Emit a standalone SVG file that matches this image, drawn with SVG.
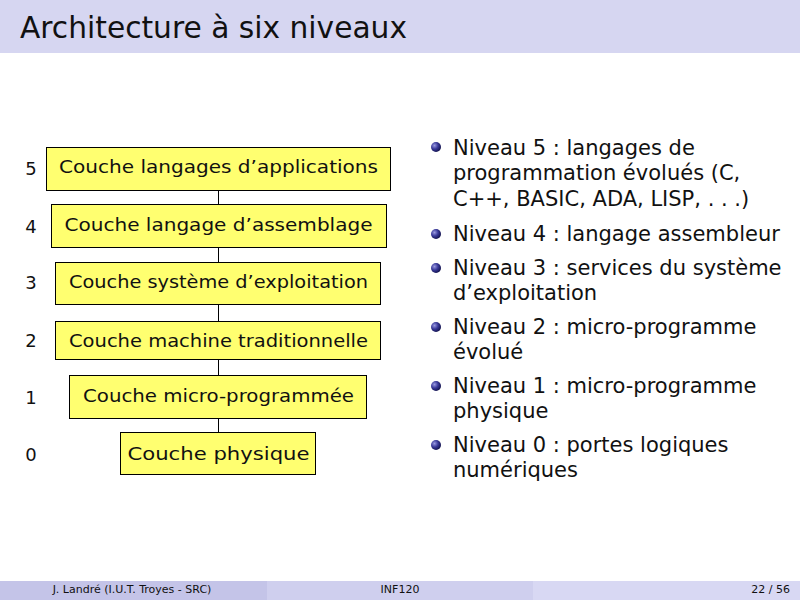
<svg xmlns="http://www.w3.org/2000/svg" width="800" height="600" viewBox="0 0 800 600">
  <defs>
    <radialGradient id="ball" cx="0.35" cy="0.35" r="0.7">
      <stop offset="0" stop-color="#9a9ae0"/>
      <stop offset="0.5" stop-color="#3a3a9a"/>
      <stop offset="1" stop-color="#10104a"/>
    </radialGradient>
  </defs>
  <style>
    text { font-family: "DejaVu Sans", "Liberation Sans", sans-serif; fill: #111; }
    .title { font-size: 30px; }
    .box { fill: #ffff70; stroke: #000; stroke-width: 1; }
    .lbl { font-size: 18px; text-anchor: middle; }
    .num { font-size: 18px; text-anchor: middle; }
    .item { font-size: 21px; }
    .foot { font-size: 11px; }
    .link { stroke: #000; stroke-width: 1; }
  </style>

  <!-- header bar -->
  <rect x="0" y="0" width="800" height="53" fill="#d6d6f1"/>
  <text class="title" x="20" y="38" textLength="387" lengthAdjust="spacingAndGlyphs">Architecture à six niveaux</text>

  <!-- connectors between layers -->
  <g id="connectors">
    <line class="link" x1="218.5" y1="191" x2="218.5" y2="204"/>
    <line class="link" x1="218.5" y1="248" x2="218.5" y2="262"/>
    <line class="link" x1="218.5" y1="305" x2="218.5" y2="321"/>
    <line class="link" x1="218.5" y1="360" x2="218.5" y2="375"/>
    <line class="link" x1="218.5" y1="419" x2="218.5" y2="432"/>
  </g>

  <!-- layers -->
  <g id="layer5">
    <text class="num" x="31" y="175">5</text>
    <rect class="box" x="46.5" y="147.5" width="344" height="43"/>
    <text class="lbl" x="218.5" y="173" textLength="319" lengthAdjust="spacingAndGlyphs">Couche langages d’applications</text>
  </g>
  <g id="layer4">
    <text class="num" x="31" y="233">4</text>
    <rect class="box" x="51.5" y="204.5" width="335" height="43"/>
    <text class="lbl" x="218.5" y="231" textLength="308" lengthAdjust="spacingAndGlyphs">Couche langage d’assemblage</text>
  </g>
  <g id="layer3">
    <text class="num" x="31" y="289">3</text>
    <rect class="box" x="55.5" y="262.5" width="325" height="42"/>
    <text class="lbl" x="218.5" y="288" textLength="299" lengthAdjust="spacingAndGlyphs">Couche système d’exploitation</text>
  </g>
  <g id="layer2">
    <text class="num" x="31" y="347">2</text>
    <rect class="box" x="55.5" y="321.5" width="325" height="38"/>
    <text class="lbl" x="218.5" y="347" textLength="299" lengthAdjust="spacingAndGlyphs">Couche machine traditionnelle</text>
  </g>
  <g id="layer1">
    <text class="num" x="31" y="404">1</text>
    <rect class="box" x="69.5" y="375.5" width="297" height="43"/>
    <text class="lbl" x="218.5" y="402" textLength="271" lengthAdjust="spacingAndGlyphs">Couche micro-programmée</text>
  </g>
  <g id="layer0">
    <text class="num" x="31" y="461">0</text>
    <rect class="box" x="120.5" y="432.5" width="195" height="42"/>
    <text class="lbl" x="218.5" y="460" textLength="182" lengthAdjust="spacingAndGlyphs">Couche physique</text>
  </g>

  <!-- bullet list -->
  <g id="items">
    <circle cx="436" cy="147" r="5" fill="url(#ball)"/>
    <text class="item" x="453" y="155">Niveau 5 : langages de</text>
    <text class="item" x="453" y="180">programmation évolués (C,</text>
    <text class="item" x="453" y="206">C++, BASIC, ADA, LISP, . . .)</text>

    <circle cx="436" cy="234" r="5" fill="url(#ball)"/>
    <text class="item" x="453" y="241">Niveau 4 : langage assembleur</text>

    <circle cx="436" cy="268" r="5" fill="url(#ball)"/>
    <text class="item" x="453" y="275">Niveau 3 : services du système</text>
    <text class="item" x="453" y="300">d’exploitation</text>

    <circle cx="436" cy="327" r="5" fill="url(#ball)"/>
    <text class="item" x="453" y="334">Niveau 2 : micro-programme</text>
    <text class="item" x="453" y="359">évolué</text>

    <circle cx="436" cy="386" r="5" fill="url(#ball)"/>
    <text class="item" x="453" y="393">Niveau 1 : micro-programme</text>
    <text class="item" x="453" y="418">physique</text>

    <circle cx="436" cy="445" r="5" fill="url(#ball)"/>
    <text class="item" x="453" y="452">Niveau 0 : portes logiques</text>
    <text class="item" x="453" y="477">numériques</text>
  </g>

  <!-- footer -->
  <rect x="0" y="581" width="267" height="19" fill="#c4c4e8"/>
  <rect x="267" y="581" width="266" height="19" fill="#cfcfee"/>
  <rect x="533" y="581" width="267" height="19" fill="#d8d8f3"/>
  <text class="foot" x="132" y="593" text-anchor="middle">J. Landré  (I.U.T. Troyes - SRC)</text>
  <text class="foot" x="400" y="593" text-anchor="middle">INF120</text>
  <text class="foot" x="790" y="593" text-anchor="end">22 / 56</text>
</svg>
